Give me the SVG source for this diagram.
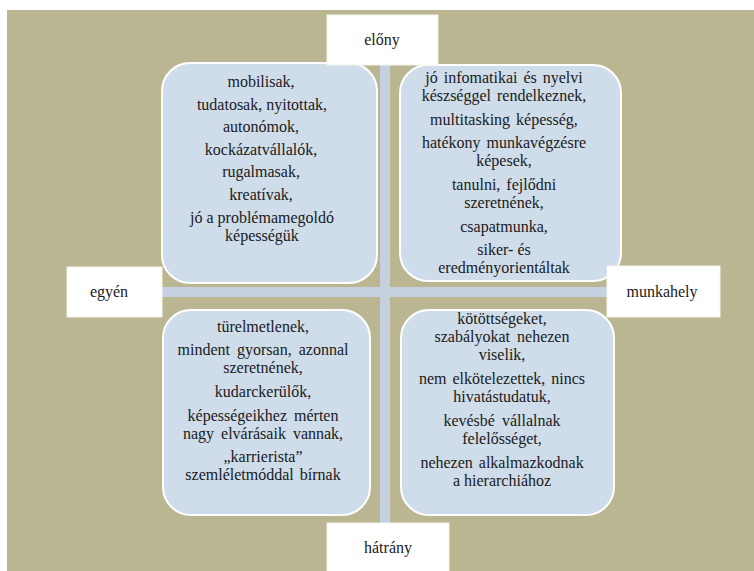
<svg xmlns="http://www.w3.org/2000/svg" width="754" height="571" viewBox="0 0 754 571">
<style>
.bg{fill:#bab691}
.bar{fill:#c6d0e1}
.q{fill:#cfdcea;stroke:#ffffff;stroke-width:2}
.lab{fill:#ffffff;stroke:#f4f4ee;stroke-width:1}
.t{font-family:'Liberation Serif','Times New Roman',serif;font-size:16px;fill:#1a1a1a;text-anchor:middle}
</style>
<rect x="0" y="0" width="754" height="571" fill="#ffffff"/>
<rect class="bg" x="7" y="10" width="747" height="561"/>
<g id="connectors">
<rect class="bar" x="380" y="60" width="10" height="468"/>
<rect class="bar" x="158" y="287" width="454" height="10"/>
</g>
<g id="q-top-left">
<rect class="q" x="162" y="63" width="215" height="220" rx="28"/>
<text class="t" x="261" y="87">mobilisak,</text>
<text class="t" x="262" y="110">tudatosak, nyitottak,</text>
<text class="t" x="261" y="132">autonómok,</text>
<text class="t" x="261" y="155">kockázatvállalók,</text>
<text class="t" x="261" y="177">rugalmasak,</text>
<text class="t" x="261" y="200">kreatívak,</text>
<text class="t" x="262" y="223">jó a problémamegoldó</text>
<text class="t" x="262" y="241">képességük</text>
</g>
<g id="q-top-right">
<rect class="q" x="400" y="65" width="221" height="216" rx="28"/>
<text class="t" x="504" y="83" word-spacing="2">jó infomatikai és nyelvi</text>
<text class="t" x="504" y="101" word-spacing="2">készséggel rendelkeznek,</text>
<text class="t" x="504" y="125" word-spacing="2">multitasking képesség,</text>
<text class="t" x="504" y="148" word-spacing="2">hatékony munkavégzésre</text>
<text class="t" x="504" y="166">képesek,</text>
<text class="t" x="504" y="190" word-spacing="2">tanulni, fejlődni</text>
<text class="t" x="504" y="208">szeretnének,</text>
<text class="t" x="504" y="232">csapatmunka,</text>
<text class="t" x="504" y="255">siker- és</text>
<text class="t" x="504" y="273">eredményorientáltak</text>
</g>
<g id="q-bottom-left">
<rect class="q" x="163" y="310" width="207" height="205" rx="28"/>
<text class="t" x="263" y="332">türelmetlenek,</text>
<text class="t" x="263" y="355" word-spacing="3">mindent gyorsan, azonnal</text>
<text class="t" x="263" y="373">szeretnének,</text>
<text class="t" x="263" y="397">kudarckerülők,</text>
<text class="t" x="263" y="421" word-spacing="3">képességeikhez mérten</text>
<text class="t" x="263" y="439" word-spacing="3">nagy elvárásaik vannak,</text>
<text class="t" x="263" y="462">„karrierista”</text>
<text class="t" x="263" y="480" word-spacing="2">szemléletmóddal bírnak</text>
</g>
<g id="q-bottom-right">
<rect class="q" x="401" y="310" width="213" height="205" rx="28"/>
<text class="t" x="502" y="324">kötöttségeket,</text>
<text class="t" x="502" y="342" word-spacing="3">szabályokat nehezen</text>
<text class="t" x="502" y="360">viselik,</text>
<text class="t" x="502" y="384" word-spacing="2">nem elkötelezettek, nincs</text>
<text class="t" x="502" y="402">hivatástudatuk,</text>
<text class="t" x="502" y="426" word-spacing="3">kevésbé vállalnak</text>
<text class="t" x="502" y="444">felelősséget,</text>
<text class="t" x="502" y="468" word-spacing="2">nehezen alkalmazkodnak</text>
<text class="t" x="502" y="486">a hierarchiához</text>
</g>
<g id="label-elony">
<rect class="lab" x="327" y="15" width="111" height="50"/>
<text class="t" x="382" y="45">előny</text>
</g>
<g id="label-hatrany">
<rect class="lab" x="327" y="523" width="122" height="52"/>
<text class="t" x="388" y="553">hátrány</text>
</g>
<g id="label-egyen">
<rect class="lab" x="67" y="267" width="95" height="50"/>
<text class="t" x="109" y="297">egyén</text>
</g>
<g id="label-munkahely">
<rect class="lab" x="607" y="266" width="113" height="51"/>
<text class="t" x="662" y="297">munkahely</text>
</g>
</svg>
